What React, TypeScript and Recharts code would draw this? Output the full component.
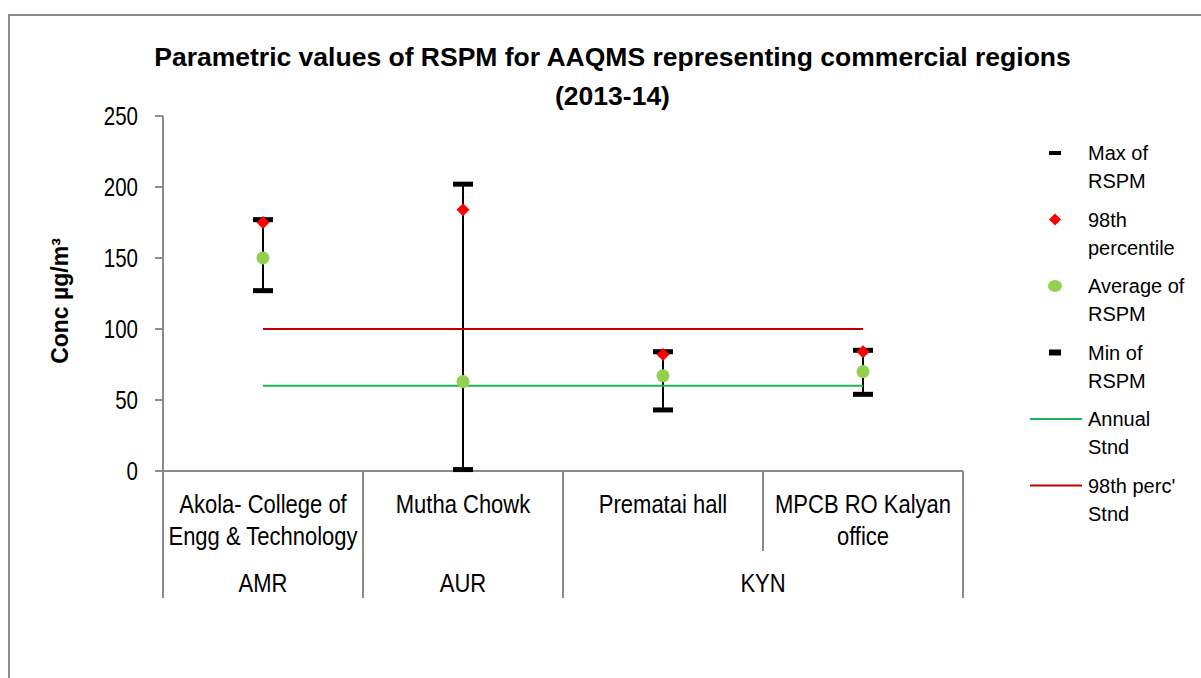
import React from 'react';
import { ComposedChart, Bar, Scatter, Line, XAxis, YAxis } from 'recharts';

// stations and their regions
const stations = ['Akola- College of Engg & Technology', 'Mutha Chowk', 'Prematai hall', 'MPCB RO Kalyan office'];
const stationLines = [['Akola- College of', 'Engg & Technology'], ['Mutha Chowk'], ['Prematai hall'], ['MPCB RO Kalyan', 'office']];
const regions = ['AMR', 'AUR', 'KYN', 'KYN'];

// RSPM values (µg/m3)
const maxRspm = [177, 202, 84, 85];
const p98Rspm = [175, 184, 82, 84];
const avgRspm = [150, 63, 67, 70];
const minRspm = [127, 1, 43, 54];
const annualStnd = [60, 60, 60, 60];
const p98Stnd = [100, 100, 100, 100];

const yTicks = [0, 50, 100, 150, 200, 250];

const FONT = "'Liberation Sans', Arial, sans-serif";
const AXIS = '#8c8c8c';
const W = 1201;
const H = 678;
const PLOT_W = 800;
const HALF = PLOT_W / stations.length / 2;

const data = stations.map((name, i) => ({
  name,
  max: maxRspm[i],
  p98: p98Rspm[i],
  avg: avgRspm[i],
  min: minRspm[i],
  range: [minRspm[i], maxRspm[i]],
  annual: annualStnd[i],
  perc: p98Stnd[i],
}));

const Cap = (props: any) => {
  const { cx, cy } = props;
  if (cx == null || cy == null) return null;
  return <rect x={cx - 10} y={cy - 2.5} width={20} height={5} fill="#000" />;
};

const Diamond = (props: any) => {
  const { cx, cy } = props;
  if (cx == null || cy == null) return null;
  const r = 6.5;
  return <polygon points={`${cx},${cy - r} ${cx + r},${cy} ${cx},${cy + r} ${cx - r},${cy}`} fill="#ff0000" />;
};

const Dot = (props: any) => {
  const { cx, cy } = props;
  if (cx == null || cy == null) return null;
  return <circle cx={cx} cy={cy} r={6.5} fill="#92d050" />;
};

// narrow-looking text: squeeze horizontally around the anchor point
const NText = ({ x, y, sx, anchor, children }: any) => (
  <text
    transform={`translate(${x},${y}) scale(${sx},1)`}
    textAnchor={anchor}
    fontFamily={FONT}
    fontSize={25}
    fill="#000"
  >
    {children}
  </text>
);

const ValueTick = (props: any) => {
  const { x, y, payload } = props;
  return (
    <NText x={x} y={y + 9} sx={0.82} anchor="end">
      {payload.value}
    </NText>
  );
};

const StationTick = (props: any) => {
  const { x, y, index } = props;
  const lines = stationLines[index];
  const full = 127;
  const startsGroup = index === 0 || regions[index] !== regions[index - 1];
  let span = 1;
  while (startsGroup && index + span < regions.length && regions[index + span] === regions[index]) span++;
  const last = index === stations.length - 1;
  return (
    <g>
      <line x1={x - HALF} y1={y} x2={x - HALF} y2={y + (startsGroup ? full : 80)} stroke={AXIS} strokeWidth={2} />
      {last && <line x1={x + HALF} y1={y} x2={x + HALF} y2={y + full} stroke={AXIS} strokeWidth={2} />}
      {lines.map((t, k) => (
        <NText key={k} x={x} y={y + 42 + k * 32} sx={0.88} anchor="middle">
          {t}
        </NText>
      ))}
      {startsGroup && (
        <NText x={x - HALF + span * HALF} y={y + 121} sx={0.88} anchor="middle">
          {regions[index]}
        </NText>
      )}
    </g>
  );
};

const legendItems = [
  { lines: ['Max of', 'RSPM'], kind: 'cap', h: 4 },
  { lines: ['98th', 'percentile'], kind: 'diamond' },
  { lines: ['Average of', 'RSPM'], kind: 'dot' },
  { lines: ['Min of', 'RSPM'], kind: 'cap', h: 6 },
  { lines: ['Annual', 'Stnd'], kind: 'line', color: '#1fb45a' },
  { lines: ["98th perc'", 'Stnd'], kind: 'line', color: '#c00000' },
];

const LegendBox = () => (
  <svg width={180} height={400} style={{ position: 'absolute', left: 1020, top: 135 }}>
    {legendItems.map((it, i) => {
      const y = 18 + i * 66.5;
      return (
        <g key={i}>
          {it.kind === 'cap' && <rect x={29} y={y - (it.h as number) / 2} width={12} height={it.h} fill="#000" />}
          {it.kind === 'diamond' && <polygon points={`35,${y - 6} 41,${y} 35,${y + 6} 29,${y}`} fill="#ff0000" />}
          {it.kind === 'dot' && <ellipse cx={35} cy={y} rx={7} ry={6} fill="#92d050" />}
          {it.kind === 'line' && <line x1={10} y1={y} x2={62} y2={y} stroke={it.color} strokeWidth={2} />}
          {it.lines.map((t, k) => (
            <text key={k} x={68} y={y + 7 + k * 28} fontFamily={FONT} fontSize={20} fill="#000">
              {t}
            </text>
          ))}
        </g>
      );
    })}
  </svg>
);

export default function App() {
  return (
    <div style={{ position: 'absolute', left: 0, top: 0, width: W, height: H, background: '#fff', overflow: 'hidden' }}>
      <div style={{ position: 'absolute', left: 8, top: 14, width: W, height: H, border: `2px solid ${AXIS}` }} />
      <div
        style={{
          position: 'absolute',
          left: 0,
          top: 38,
          width: 1225,
          textAlign: 'center',
          fontFamily: FONT,
          fontWeight: 'bold',
          fontSize: 26.5,
          lineHeight: '39px',
          color: '#000',
        }}
      >
        Parametric values of RSPM for AAQMS representing commercial regions
        <br />
        (2013-14)
      </div>
      <div style={{ position: 'absolute', left: 0, top: 0 }}>
        <ComposedChart width={W} height={H} data={data} margin={{ top: 116, right: 238, bottom: 77, left: 103 }}>
          <XAxis
            dataKey="name"
            height={130}
            axisLine={{ stroke: AXIS, strokeWidth: 2 }}
            tickLine={false}
            tickSize={0}
            tickMargin={0}
            interval={0}
            tick={<StationTick />}
          />
          <YAxis
            width={60}
            domain={[0, 250]}
            ticks={yTicks}
            interval={0}
            axisLine={{ stroke: AXIS, strokeWidth: 2 }}
            tickLine={{ stroke: AXIS, strokeWidth: 2 }}
            tickSize={8}
            tickMargin={17}
            tick={<ValueTick />}
          />
          <Bar dataKey="range" barSize={2} fill="#000" isAnimationActive={false} />
          <Line dataKey="perc" stroke="#c00000" strokeWidth={2} dot={false} activeDot={false} isAnimationActive={false} />
          <Line dataKey="annual" stroke="#1fb45a" strokeWidth={2} dot={false} activeDot={false} isAnimationActive={false} />
          <Scatter dataKey="max" shape={<Cap />} isAnimationActive={false} />
          <Scatter dataKey="min" shape={<Cap />} isAnimationActive={false} />
          <Scatter dataKey="avg" shape={<Dot />} isAnimationActive={false} />
          <Scatter dataKey="p98" shape={<Diamond />} isAnimationActive={false} />
        </ComposedChart>
      </div>
      <svg width={100} height={300} style={{ position: 'absolute', left: 0, top: 150 }}>
        <text
          transform="translate(68,151) rotate(-90)"
          textAnchor="middle"
          fontFamily={FONT}
          fontSize={23}
          fontWeight="bold"
          fill="#000"
        >
          Conc µg/m³
        </text>
      </svg>
      <LegendBox />
    </div>
  );
}
